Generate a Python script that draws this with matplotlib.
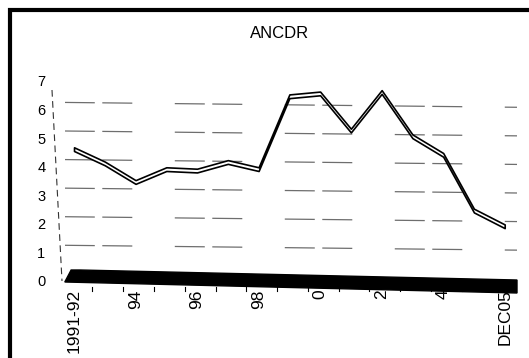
import matplotlib
matplotlib.use("Agg")
import matplotlib.pyplot as plt
from matplotlib.patches import Rectangle, Polygon
from matplotlib.lines import Line2D

plt.rcParams['font.family'] = ['Liberation Sans', 'DejaVu Sans']

categories = ['1991-92', '93', '94', '95', '96', '97', '98', '99', '0', '1', '2', '3', '4', '05', 'DEC05']
values = [4.55, 4.05, 3.4, 3.85, 3.8, 4.1, 3.85, 6.4, 6.5, 5.2, 6.55, 5.0, 4.35, 2.4, 1.85]
shown_labels = {0: '1991-92', 2: '94', 4: '96', 6: '98', 8: '0', 10: '2', 12: '4', 14: 'DEC05'}
y_ticks = [0, 1, 2, 3, 4, 5, 6, 7]
title = 'ANCDR'

W, H = 529, 358
fig = plt.figure(figsize=(W / 100, H / 100), dpi=100)

def fx(px):
    return px / W

def fy(py):
    return 1 - py / H

ax_left, ax_right, ax_top, ax_bot = 64.8, 517.0, 81.0, 281.0
ax = fig.add_axes([fx(ax_left), fy(ax_bot), (ax_right - ax_left) / W, (ax_bot - ax_top) / H])
ax.set_xlim(-0.3, 14.4)
ax.set_ylim(0, 7)
for s in ax.spines.values():
    s.set_visible(False)

# back-wall gridlines (slightly slanted)
for v in range(1, 7):
    ax.plot([-0.3, 14.4], [v + 0.25, v + 0.08], color='#6e6e6e', lw=0.9,
            linestyle=(0, (24, 6, 24, 34)), zorder=1)

# ribbon line
x = list(range(len(categories)))
top = [v + 0.13 for v in values]
ax.fill_between(x, values, top, facecolor='white', edgecolor='black', lw=1.2, zorder=3)

# floor wedge
floor = [(0.0, -0.005), (0.014, 0.055), (0.034, 0.055), (1.0, 0.005), (1.0, -0.06)]
ax.add_patch(Polygon(floor, closed=True, transform=ax.transAxes, facecolor='black',
                     edgecolor='black', clip_on=False, zorder=2))

# ticks
ax.set_yticks(y_ticks)
ax.set_yticklabels([str(t) for t in y_ticks], fontsize=10.5)
ax.tick_params(axis='y', length=0, pad=14)
ax.set_xticks(list(shown_labels.keys()))
ax.set_xticklabels(list(shown_labels.values()), rotation=90, fontsize=12.5)
ax.tick_params(axis='x', length=0, pad=6)
for i in range(len(categories) - 1):
    ax.plot([i + 0.6, i + 0.6], [-0.22, -0.36], color='black', lw=0.8, clip_on=False, zorder=2)

# slanted dashed y-axis line
fig.add_artist(Line2D([fx(52), fx(62)], [fy(90), fy(281)], transform=fig.transFigure,
                      color='#333333', lw=0.8, linestyle=(0, (6, 4))))

fig.text(fx(280), fy(33), title, ha='center', va='center', fontsize=12)

# outer frame (cut off at right and bottom)
fig.add_artist(Rectangle((fx(10), -0.1), 1.1, fy(10) + 0.1, transform=fig.transFigure,
                         fill=False, edgecolor='black', lw=3.0, clip_on=False))

fig.savefig('out.png', dpi=100)
